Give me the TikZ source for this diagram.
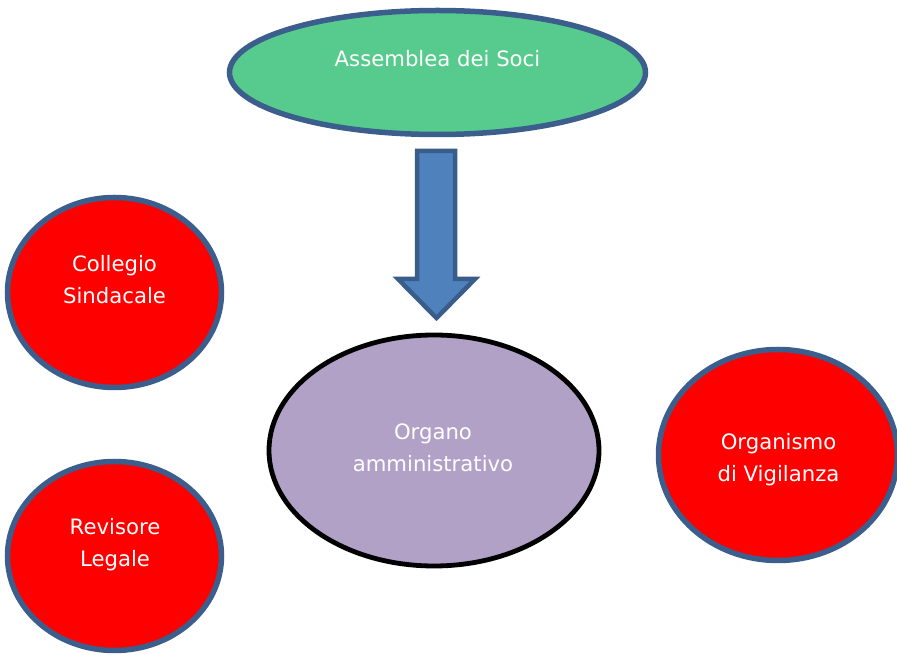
\documentclass[tikz,border=0pt]{standalone}
\usepackage{fontspec}
\setmainfont{DejaVu Sans}
\usetikzlibrary{shapes.geometric}
\definecolor{bordblue}{HTML}{3B5E8C}
\definecolor{greenfill}{HTML}{57CB8D}
\definecolor{arrowfill}{HTML}{4F81BD}
\definecolor{arrowbord}{HTML}{385D8A}
\definecolor{purplefill}{HTML}{B2A1C7}
\definecolor{redfill}{HTML}{FF0000}
\tikzset{
  blob/.style={ellipse, inner sep=0pt, outer sep=0pt, draw=bordblue, line width=5.5*0.75pt},
  lbl/.style={text=white, align=center, anchor=base, inner sep=0pt,
    font=\fontsize{15.9pt}{23.8pt}\selectfont},
}
\begin{document}
\begin{tikzpicture}[x=0.75pt,y=-0.75pt]
\useasboundingbox (0,0) rectangle (897,655);
% ellipses
\node[blob, fill=greenfill, minimum width=416*0.75pt, minimum height=124*0.75pt] (soci) at (437.5,72.5) {};
\node[blob, fill=redfill, minimum width=214*0.75pt, minimum height=190*0.75pt] (coll) at (114.5,292.5) {};
\node[blob, fill=redfill, minimum width=214*0.75pt, minimum height=189*0.75pt] (rev) at (114.5,556) {};
\node[blob, fill=redfill, minimum width=239*0.75pt, minimum height=211*0.75pt] (odv) at (778,455) {};
\node[blob, draw=black, line width=4.8*0.75pt, fill=purplefill, minimum width=330*0.75pt, minimum height=231*0.75pt] (org) at (434,450.5) {};
% labels (base anchor = baseline of last line)
\node[lbl] (sociT) at (437.5,67) {Assemblea dei Soci};
\node[lbl] (collT) at (114.5,303.3) {Collegio\\Sindacale};
\node[lbl] (revT) at (115,566.7) {Revisore\\Legale};
\node[lbl] (odvT) at (778.5,481.7) {Organismo\\di Vigilanza};
\node[lbl] (orgT) at (433,471.7) {Organo\\amministrativo};
% block arrow
\coordinate (aTip) at (436.5,318);
\draw[fill=arrowfill, draw=arrowbord, line width=4.5*0.75pt, line join=miter]
  (417,151) -- (455,151) -- (455,279) -- (475,279) -- (aTip) -- (398,279) -- (417,279) -- cycle;
\end{tikzpicture}
\end{document}
